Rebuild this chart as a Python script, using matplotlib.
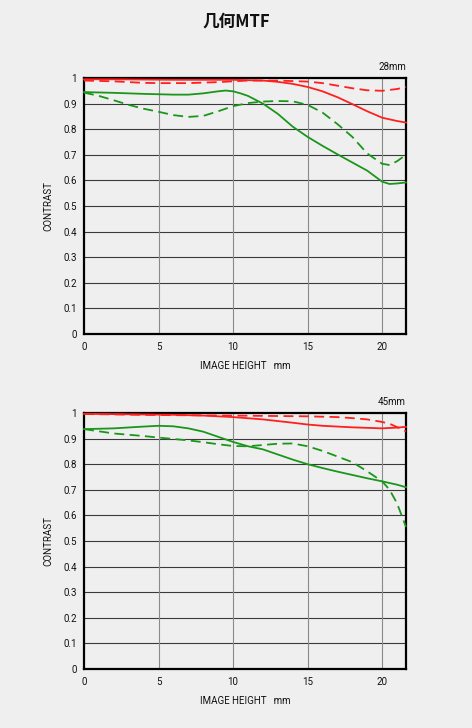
import matplotlib
matplotlib.use("Agg")
import matplotlib.pyplot as plt

plt.rcParams['font.family'] = ['Roboto', 'Noto Sans CJK SC', 'DejaVu Sans']

title = "几何MTF"
panel_labels = ["28mm", "45mm"]
xticks = [0, 5, 10, 15, 20]
yticks = [0, 0.1, 0.2, 0.3, 0.4, 0.5, 0.6, 0.7, 0.8, 0.9, 1]
ytick_labels = ["0", "0.1", "0.2", "0.3", "0.4", "0.5", "0.6", "0.7", "0.8", "0.9", "1"]

# 28mm
t_red_solid_x = [0, 2, 4, 6, 8, 10, 12, 13, 14, 15, 16, 17, 18, 19, 20, 21, 21.6]
t_red_solid_y = [0.995, 0.995, 0.994, 0.993, 0.993, 0.993, 0.99, 0.985, 0.977, 0.965, 0.948, 0.925, 0.898, 0.87, 0.845, 0.832, 0.826]
t_red_dash_x = [0, 2, 4, 5, 7, 9, 11, 13, 15, 16, 17, 18, 19, 20, 21, 21.6]
t_red_dash_y = [0.99, 0.987, 0.981, 0.98, 0.98, 0.984, 0.99, 0.99, 0.986, 0.98, 0.97, 0.96, 0.952, 0.95, 0.957, 0.965]
t_grn_solid_x = [0, 2, 4, 6, 7, 8, 9, 9.5, 10, 10.5, 11, 12, 13, 14, 15, 16, 17, 18, 19, 20, 20.5, 21, 21.6]
t_grn_solid_y = [0.945, 0.942, 0.938, 0.935, 0.935, 0.94, 0.948, 0.951, 0.948, 0.94, 0.93, 0.9, 0.86, 0.81, 0.77, 0.735, 0.702, 0.67, 0.638, 0.595, 0.586, 0.588, 0.592]
t_grn_dash_x = [0, 1, 2, 3, 4, 5, 6, 7, 8, 9, 10, 11, 12, 13, 14, 15, 16, 17, 18, 19, 20, 20.5, 21, 21.6]
t_grn_dash_y = [0.943, 0.93, 0.913, 0.895, 0.88, 0.868, 0.855, 0.848, 0.852, 0.87, 0.89, 0.902, 0.908, 0.91, 0.909, 0.895, 0.865, 0.82, 0.77, 0.705, 0.665, 0.66, 0.675, 0.70]

# 45mm
b_red_solid_x = [0, 3, 6, 8, 10, 12, 14, 15, 16, 18, 20, 21, 21.6]
b_red_solid_y = [0.997, 0.995, 0.993, 0.99, 0.984, 0.975, 0.962, 0.955, 0.95, 0.944, 0.94, 0.943, 0.946]
b_red_dash_x = [0, 5, 10, 15, 17, 18, 19, 20, 20.5, 21, 21.6]
b_red_dash_y = [0.996, 0.992, 0.99, 0.987, 0.984, 0.98, 0.975, 0.965, 0.958, 0.945, 0.928]
b_grn_solid_x = [0, 2, 4, 5, 6, 7, 8, 9, 10, 11, 12, 13, 14, 15, 16, 17, 18, 19, 20, 21, 21.6]
b_grn_solid_y = [0.937, 0.94, 0.947, 0.95, 0.948, 0.94, 0.927, 0.907, 0.887, 0.87, 0.858, 0.838, 0.818, 0.80, 0.785, 0.771, 0.758, 0.745, 0.733, 0.72, 0.71]
b_grn_dash_x = [0, 2, 4, 5, 7, 8, 9, 10, 11, 12, 13, 14, 15, 16, 17, 18, 19, 20, 20.5, 21, 21.6]
b_grn_dash_y = [0.937, 0.92, 0.91, 0.904, 0.893, 0.886, 0.878, 0.871, 0.87, 0.875, 0.88, 0.881, 0.87, 0.852, 0.83, 0.808, 0.772, 0.733, 0.70, 0.647, 0.555]

RED = "#ff1f1f"
GREEN = "#1a961a"
BG = "#efefef"

fig = plt.figure(figsize=(4.72, 7.28), dpi=100, facecolor=BG)
fig.text(0.5, 1 - 22 / 728, title, ha="center", va="center", fontsize=12,
         fontweight="bold", family=['Noto Sans CJK SC', 'DejaVu Sans'], color="#111111")

panels = [
    (panel_labels[0], 1 - 334 / 728,
     [(t_red_solid_x, t_red_solid_y, RED, '-'), (t_red_dash_x, t_red_dash_y, RED, '--'),
      (t_grn_solid_x, t_grn_solid_y, GREEN, '-'), (t_grn_dash_x, t_grn_dash_y, GREEN, '--')]),
    (panel_labels[1], 1 - 669 / 728,
     [(b_red_solid_x, b_red_solid_y, RED, '-'), (b_red_dash_x, b_red_dash_y, RED, '--'),
      (b_grn_solid_x, b_grn_solid_y, GREEN, '-'), (b_grn_dash_x, b_grn_dash_y, GREEN, '--')]),
]

for label, bottom, series in panels:
    ax = fig.add_axes([84 / 472, bottom, 322 / 472, 256 / 728])
    ax.set_facecolor(BG)
    ax.set_xlim(0, 21.6)
    ax.set_ylim(0, 1)
    ax.set_xticks(xticks)
    ax.set_yticks(yticks)
    ax.set_yticklabels(ytick_labels)
    for yv in yticks[1:-1]:
        ax.axhline(yv, color="#3a3a3a", lw=0.8, zorder=1)
    for xv in xticks[1:]:
        ax.axvline(xv, color="#8a8a8a", lw=0.8, zorder=1)
    for xs, ys, c, ls in series:
        line, = ax.plot(xs, ys, color=c, lw=1.3, linestyle=ls, zorder=3, clip_on=False)
        if ls == '--':
            line.set_dashes((5.5, 3))
    for sp in ax.spines.values():
        sp.set_color("black")
        sp.set_linewidth(1.6)
        sp.set_zorder(2)
    ax.tick_params(length=0, labelsize=7, colors="#111111")
    ax.tick_params(axis="x", pad=6)
    ax.tick_params(axis="y", pad=5)
    ax.set_xlabel("IMAGE HEIGHT   mm", fontsize=7, color="#111111", labelpad=6)
    ax.set_ylabel("CONTRAST", fontsize=7, color="#111111", labelpad=7)
    ax.text(1.0, 1.025, label, transform=ax.transAxes, ha="right", va="bottom",
            fontsize=7, color="#111111")

fig.savefig("out.png", dpi=100, facecolor=BG)
